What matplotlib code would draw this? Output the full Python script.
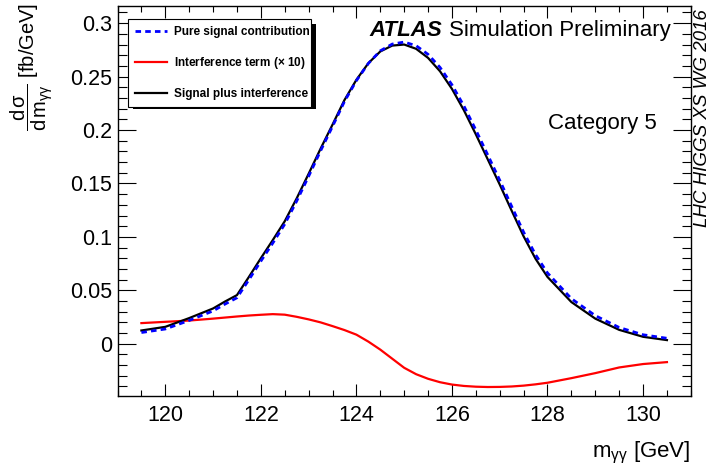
import numpy as np
import matplotlib
matplotlib.use('Agg')
import matplotlib.pyplot as plt
from matplotlib.ticker import MultipleLocator, FormatStrFormatter
from matplotlib.patches import Rectangle

plt.rcParams['font.family'] = ['Liberation Sans', 'DejaVu Sans']
plt.rcParams['mathtext.fontset'] = 'custom'
plt.rcParams['mathtext.rm'] = 'Liberation Sans'
plt.rcParams['mathtext.it'] = 'Liberation Sans:italic'
plt.rcParams['mathtext.default'] = 'regular'

# m_gg [GeV]
masa = [119.5, 120.0, 120.5, 121.0, 121.25, 121.5, 121.75, 122.0, 122.25, 122.5,
        122.75, 123.0, 123.25, 123.5, 123.75, 124.0, 124.25, 124.5, 124.75, 125.0,
        125.25, 125.5, 125.75, 126.0, 126.25, 126.5, 126.75, 127.0, 127.25, 127.5,
        127.75, 128.0, 128.5, 129.0, 129.5, 130.0, 130.5]

# señal pura (azul)
senal = [0.0105, 0.0138, 0.0218, 0.0307, 0.0371, 0.0430, 0.0599, 0.0773, 0.0942, 0.1119,
         0.1335, 0.1567, 0.1805, 0.2034, 0.2267, 0.2462, 0.2623, 0.2741, 0.2804, 0.2823,
         0.2789, 0.2708, 0.2586, 0.2423, 0.2225, 0.2000, 0.1766, 0.1530, 0.1285, 0.1044,
         0.0833, 0.0662, 0.0422, 0.0263, 0.0152, 0.0084, 0.0051]

# interferencia x10 (rojo)
interf = [0.0193, 0.0205, 0.0217, 0.0235, 0.0245, 0.0255, 0.0264, 0.0271, 0.0277, 0.0272,
          0.0252, 0.0228, 0.0200, 0.0165, 0.0128, 0.0085, 0.0020, -0.0055, -0.0140, -0.0225,
          -0.0285, -0.0328, -0.0360, -0.0382, -0.0395, -0.0402, -0.0405, -0.0404, -0.0400, -0.0392,
          -0.0380, -0.0365, -0.0322, -0.0275, -0.0222, -0.0190, -0.0172]

# señal + interferencia (negro)
total = [0.0124, 0.0158, 0.0240, 0.0330, 0.0395, 0.0455, 0.0625, 0.0800, 0.0970, 0.1146,
         0.1360, 0.1590, 0.1825, 0.2050, 0.2280, 0.2470, 0.2625, 0.2735, 0.2790, 0.2800,
         0.2760, 0.2675, 0.2550, 0.2385, 0.2185, 0.1960, 0.1725, 0.1490, 0.1245, 0.1005,
         0.0795, 0.0625, 0.0390, 0.0235, 0.0130, 0.0065, 0.0034]

#=======================================================
# Grafica
#=======================================================
fig = plt.figure(figsize=(7.1, 4.66), dpi=100)
ax = fig.add_axes([0.1655, 0.150, 0.8075, 0.837])

ax.plot(masa, senal, color='blue', lw=2, linestyle=(0, (2, 1.5)), label='Pure signal contribution', zorder=3)
ax.plot(masa, interf, color='red', lw=1.6, label=r'Interference term ($\times$ 10)', zorder=2)
ax.plot(masa, total, color='black', lw=1.6, label='Signal plus interference', zorder=2)

ax.set_xlim(119, 131)
ax.set_ylim(-0.049, 0.316)
ax.xaxis.set_major_locator(MultipleLocator(2))
ax.xaxis.set_minor_locator(MultipleLocator(0.5))
ax.yaxis.set_major_locator(MultipleLocator(0.05))
ax.yaxis.set_minor_locator(MultipleLocator(0.01))
ax.yaxis.set_major_formatter(FormatStrFormatter('%g'))

ax.tick_params(which='both', direction='in', top=True, right=True, width=0.8, labelsize=15.5)
ax.tick_params(axis='x', which='major', length=8.4, pad=6.5)
ax.tick_params(axis='x', which='minor', length=4.3)
ax.tick_params(axis='y', which='major', length=12.7, pad=4)
ax.tick_params(axis='y', which='minor', length=6.5)
for s in ax.spines.values():
    s.set_linewidth(1.0)

ax.set_xlabel(r'm$_{\gamma\gamma}$ [GeV]', loc='right', fontsize=16, labelpad=10)
ax.set_ylabel(r'$\dfrac{d\,\sigma}{d\,m_{\gamma\gamma}}$ [fb/GeV]', loc='top', fontsize=14.5)
ax.yaxis.set_label_coords(-0.109, 1.008)

t = ax.text(0.965, 0.965, 'Simulation Preliminary', transform=ax.transAxes,
            ha='right', va='top', fontsize=16)
ax.annotate('ATLAS', xy=(0, 0), xycoords=t, xytext=(-5, 0), textcoords='offset points',
            ha='right', va='bottom', fontsize=16, fontweight='bold', fontstyle='italic')
ax.text(0.94, 0.70, 'Category 5', transform=ax.transAxes, ha='right', va='center', fontsize=16)
fig.text(0.99, 0.98, 'LHC HIGGS XS WG 2016', rotation=90, ha='center', va='top',
         fontsize=13.5, style='italic')

# leyenda con sombra
x0, y0, x1, y1 = 128/710, 1-104/466, 311/710, 1-19/466
ax.add_patch(Rectangle((x0+5/710, y0-5/466), x1-x0, y1-y0, transform=fig.transFigure,
                       facecolor='black', edgecolor='none', zorder=4, clip_on=False))
leg = ax.legend(loc='upper left', bbox_to_anchor=(x0, y0, x1-x0, y1-y0), bbox_transform=fig.transFigure,
                mode='expand', prop={'weight': 'bold', 'size': 8.5}, frameon=True,
                fancybox=False, edgecolor='black', framealpha=1, handlelength=2.7, handletextpad=0.6,
                labelspacing=1.45, borderpad=0.6, borderaxespad=0)
leg.get_frame().set_linewidth(0.8)
leg.set_zorder(5)

plt.savefig('out.png', dpi=100)
